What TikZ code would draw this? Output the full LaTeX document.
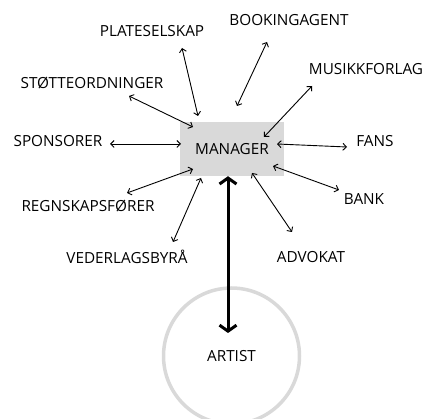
\documentclass[tikz,border=0pt]{standalone}
\usepackage{fontspec}
\setmainfont{Open Sans}
\usetikzlibrary{arrows.meta}

\definecolor{boxgray}{HTML}{D9D9D9}

\tikzset{
	label/.style={font=\fontsize{15.3}{18}\selectfont, inner sep=1pt},
	link/.style={{Straight Barb[length=3.5pt,width=7pt]}-{Straight Barb[length=3.5pt,width=7pt]}, line width=0.9pt},
	mainlink/.style={{Straight Barb[length=6pt,width=17pt]}-{Straight Barb[length=6pt,width=17pt]}, line width=3pt, line cap=round}
}

\begin{document}
\begin{tikzpicture}[x=1pt, y=-1pt]
		\useasboundingbox (0, 0) rectangle (423, 419);
		
		% centre and artist
		\node[fill=boxgray, minimum width=104pt, minimum height=54pt, label] (mgr) at (232, 149) {MANAGER};
		\node[circle, draw=boxgray, line width=3.5pt, minimum size=136pt, label] (artist) at (231.5, 356) {ARTIST};
		
		% outer labels
		\node[label] (plate) at (152, 31) {PLATESELSKAP};
		\node[label] (booking) at (289, 20) {BOOKINGAGENT};
		\node[label] (musikk) at (366, 69) {MUSIKKFORLAG};
		\node[label] (stotte) at (92, 83) {STØTTEORDNINGER};
		\node[label] (sponsor) at (58, 141) {SPONSORER};
		\node[label] (fans) at (375, 141) {FANS};
		\node[label] (bank) at (364, 199) {BANK};
		\node[label] (regnskap) at (88, 206) {REGNSKAPSFØRER};
		\node[label] (vederlag) at (127, 257) {VEDERLAGSBYRÅ};
		\node[label] (advokat) at (311, 257) {ADVOKAT};
		
		% free ends of the thin arrows
		\coordinate (plate-a) at (182, 48);      \coordinate (plate-b) at (198, 116);
		\coordinate (booking-a) at (267, 42);    \coordinate (booking-b) at (237, 106);
		\coordinate (musikk-a) at (312, 86);     \coordinate (musikk-b) at (264, 137);
		\coordinate (stotte-a) at (129, 96);     \coordinate (stotte-b) at (193, 127);
		\coordinate (sponsor-a) at (110, 144);   \coordinate (sponsor-b) at (181, 144);
		\coordinate (fans-a) at (347, 147);      \coordinate (fans-b) at (277, 144);
		\coordinate (bank-a) at (339, 190);      \coordinate (bank-b) at (273, 166);
		\coordinate (regnskap-a) at (127, 193);  \coordinate (regnskap-b) at (193, 169);
		\coordinate (vederlag-a) at (173, 242);  \coordinate (vederlag-b) at (201, 178);
		\coordinate (advokat-a) at (292, 232);   \coordinate (advokat-b) at (252, 173);
		
		\foreach \n in {plate, booking, musikk, stotte, sponsor, fans, bank, regnskap, vederlag, advokat}
		\draw[link] (\n-a) -- (\n-b);
		
		% manager <-> artist
		\draw[mainlink] ([xshift=-4pt]mgr.south) -- ([xshift=-3.5pt, yshift=23pt]artist.center);
		
	\end{tikzpicture}
\end{document}
